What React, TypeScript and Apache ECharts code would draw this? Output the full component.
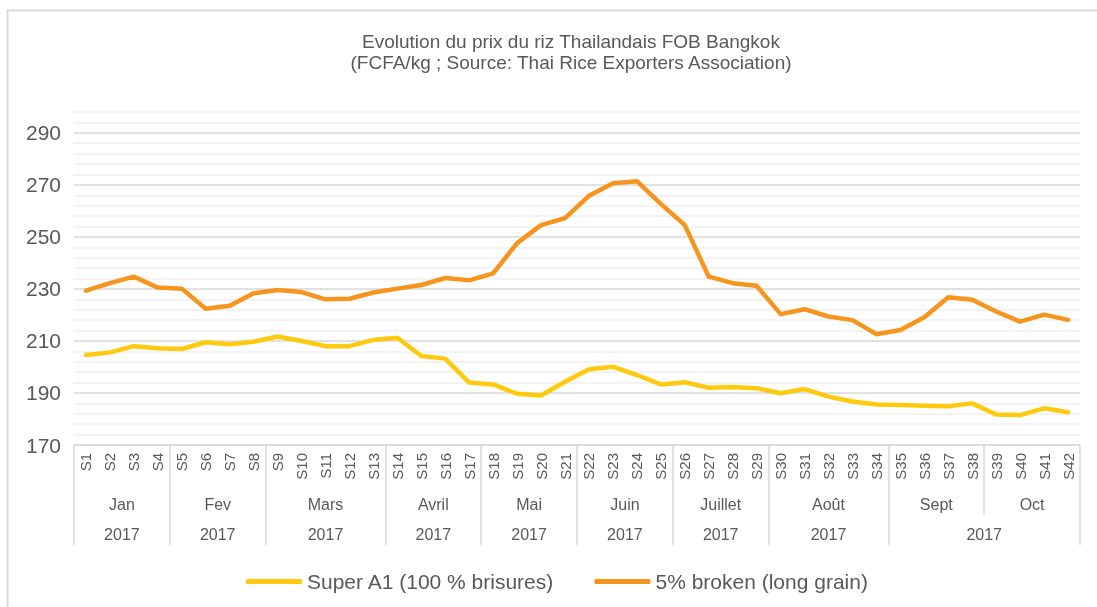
import React, { useEffect, useRef } from 'react';
import * as echarts from 'echarts';

const weeks = ['S1','S2','S3','S4','S5','S6','S7','S8','S9','S10','S11','S12','S13','S14','S15','S16','S17','S18','S19','S20','S21','S22','S23','S24','S25','S26','S27','S28','S29','S30','S31','S32','S33','S34','S35','S36','S37','S38','S39','S40','S41','S42'];

const superA1 = [204.6,205.6,208.0,207.2,206.9,209.5,208.7,209.7,211.7,210.0,208.0,208.0,210.4,211.2,204.2,203.2,194.0,193.3,189.7,189.0,194.3,199.1,200.1,196.9,193.3,194.1,192.0,192.3,191.8,189.9,191.5,188.6,186.7,185.6,185.4,185.1,184.9,186.0,181.7,181.5,184.1,182.6];

const broken5 = [229.3,232.2,234.7,230.5,230.1,222.4,223.5,228.3,229.6,228.8,226.0,226.2,228.6,230.1,231.5,234.2,233.3,236.0,247.6,254.5,257.2,265.8,270.6,271.4,262.7,254.5,234.7,232.2,231.2,220.3,222.2,219.4,218.0,212.6,214.2,219.1,226.8,225.8,221.3,217.4,220.1,218.1];

const months = ['Jan','Fev','Mars','Avril','Mai','Juin','Juillet','Août','Sept','Oct'];
const monthWeekCounts = [4,4,5,4,4,4,4,5,4,4];
const years = ['2017','2017','2017','2017','2017','2017','2017','2017','2017'];
const yearWeekCounts = [4,4,5,4,4,4,4,5,8];
const yTickLabels = [170,190,210,230,250,270,290];

const TITLE = 'Evolution du prix du riz Thailandais FOB Bangkok\n(FCFA/kg ; Source: Thai Rice Exporters Association)';
const SERIES_NAMES = ['Super A1 (100 % brisures)', '5% broken (long grain)'];

function buildLevel(labels: string[], counts: number[]) {
  const slots: string[] = new Array(weeks.length * 2 + 1).fill('');
  const bounds = new Set<number>([0]);
  let start = 0;
  labels.forEach((l, i) => {
    slots[2 * start + counts[i]] = l;
    start += counts[i];
    bounds.add(2 * start);
  });
  return { slots, bounds };
}

const FONT = '"Liberation Sans", Arial, sans-serif';
const TXT = '#595959';
const GRID = '#d9d9d9';

export default function App() {
  const ref = useRef<HTMLDivElement>(null);
  useEffect(() => {
    if (!ref.current) return;
    const chart = echarts.init(ref.current, null, { renderer: 'svg' });
    const monthLvl = buildLevel(months, monthWeekCounts);
    const yearLvl = buildLevel(years, yearWeekCounts);
    const slotIds = monthLvl.slots.map((_, i) => String(i));
    const minor = '#efefef';
    const none = 'rgba(0,0,0,0)';

    chart.setOption({
      animation: false,
      textStyle: { fontFamily: FONT },
      title: {
        text: TITLE,
        left: 566,
        top: 26,
        textAlign: 'center',
        textStyle: { fontFamily: FONT, fontSize: 19, fontWeight: 'normal', color: TXT, lineHeight: 21 },
      },
      graphic: [
        {
          type: 'rect',
          silent: true,
          z: -10,
          shape: { x: 7.5, y: 10.5, width: 1200, height: 700 },
          style: { fill: 'none', stroke: '#dadada', lineWidth: 2 },
        },
      ],
      legend: {
        left: 241,
        top: 566,
        itemGap: 40,
        itemWidth: 56,
        itemHeight: 5,
        icon: 'roundRect',
        textStyle: { fontFamily: FONT, fontSize: 21, color: TXT },
        data: SERIES_NAMES,
      },
      grid: { left: 74, right: 17, top: 112, bottom: 162, containLabel: false },
      xAxis: [
        {
          type: 'category',
          data: weeks,
          boundaryGap: true,
          position: 'bottom',
          axisLine: { show: true, lineStyle: { color: GRID, width: 1.5 } },
          axisTick: { show: false },
          axisLabel: { interval: 0, rotate: 90, margin: 8, fontSize: 15, color: TXT, fontFamily: FONT },
          splitLine: { show: false },
        },
        {
          type: 'category',
          data: slotIds,
          boundaryGap: false,
          position: 'bottom',
          offset: 0,
          axisLine: { show: false },
          axisTick: {
            show: true,
            length: 70,
            interval: (i: number) => monthLvl.bounds.has(i) && !yearLvl.bounds.has(i),
            lineStyle: { color: GRID, width: 1.5 },
          },
          axisLabel: {
            interval: (i: number) => monthLvl.slots[i] !== '',
            formatter: (v: string) => monthLvl.slots[Number(v)],
            margin: 51,
            fontSize: 16,
            color: TXT,
            fontFamily: FONT,
          },
          splitLine: { show: false },
        },
        {
          type: 'category',
          data: slotIds,
          boundaryGap: false,
          position: 'bottom',
          offset: 0,
          axisLine: { show: false },
          axisTick: {
            show: true,
            length: 100,
            interval: (i: number) => yearLvl.bounds.has(i),
            lineStyle: { color: GRID, width: 1.5 },
          },
          axisLabel: {
            interval: (i: number) => yearLvl.slots[i] !== '',
            formatter: (v: string) => yearLvl.slots[Number(v)],
            margin: 81,
            fontSize: 16,
            color: TXT,
            fontFamily: FONT,
          },
          splitLine: { show: false },
        },
      ],
      yAxis: {
        type: 'value',
        min: 170,
        max: 298,
        interval: 2,
        axisLine: { show: false },
        axisTick: { show: false },
        axisLabel: {
          margin: 13,
          fontSize: 21,
          color: TXT,
          fontFamily: FONT,
          showMaxLabel: false,
          formatter: (v: number) => (yTickLabels.includes(Math.round(v)) ? String(Math.round(v)) : ''),
        },
        splitLine: {
          show: true,
          lineStyle: {
            width: 1.5,
            color: [GRID, none, minor, none, minor, none, minor, none, minor, none],
          },
        },
      },
      series: [
        {
          name: SERIES_NAMES[0],
          type: 'line',
          data: superA1,
          xAxisIndex: 0,
          showSymbol: false,
          symbol: 'none',
          color: '#ffc90e',
          lineStyle: { width: 4.5, color: '#ffc90e', cap: 'round', join: 'round' },
          itemStyle: { color: '#ffc90e' },
        },
        {
          name: SERIES_NAMES[1],
          type: 'line',
          data: broken5,
          xAxisIndex: 0,
          showSymbol: false,
          symbol: 'none',
          color: '#f7941e',
          lineStyle: { width: 4.5, color: '#f7941e', cap: 'round', join: 'round' },
          itemStyle: { color: '#f7941e' },
        },
      ],
    });
    return () => chart.dispose();
  }, []);
  return <div ref={ref} style={{ position: 'fixed', left: 0, top: 0, width: 1097, height: 607 }} />;
}
